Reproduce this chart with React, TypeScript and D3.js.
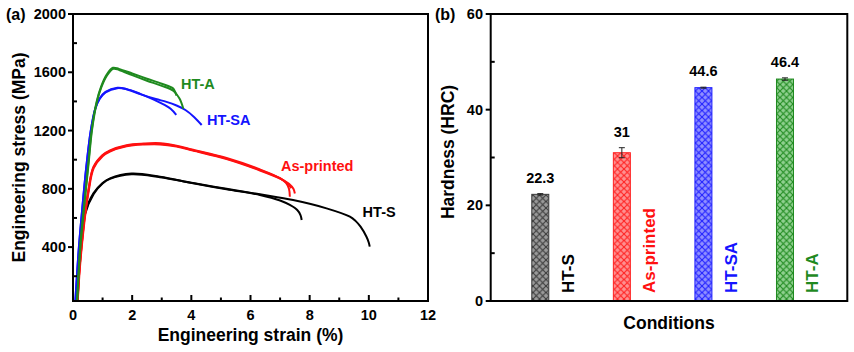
import React from "react";
import * as d3 from "d3";

// ---------- data ----------
const STRAIN_TICKS = [0, 2, 4, 6, 8, 10, 12];
const STRAIN_MINOR = [1, 3, 5, 7, 9, 11];
const STRESS_TICKS = [400, 800, 1200, 1600, 2000];
const STRESS_MINOR = [200, 600, 1000, 1400, 1800];

const HT_S_1: [number, number][] = [[0.15, 30], [0.25, 400], [0.4, 632], [0.69, 769], [1.0, 840], [1.25, 872], [1.98, 905], [2.94, 883], [4.06, 838], [5.19, 797], [6.32, 758], [7.0, 720], [7.33, 689], [7.58, 655], [7.69, 620], [7.73, 586]];
const HT_S_2: [number, number][] = [[0.16, 30], [0.26, 400], [0.41, 628], [0.7, 765], [1.0, 836], [1.25, 868], [1.98, 900], [2.94, 880], [4.06, 840], [5.19, 800], [6.32, 762], [7.44, 723], [8.57, 666], [9.36, 609], [9.55, 580], [9.72, 540], [9.92, 471], [10.0, 430], [10.03, 403]];
const AS_PRINTED_1: [number, number][] = [[0.15, 30], [0.22, 250], [0.3, 430], [0.4, 620], [0.52, 790], [0.69, 950], [1.0, 1032], [1.25, 1064], [1.81, 1100], [2.4, 1111], [2.94, 1113], [3.5, 1096], [4.06, 1068], [5.19, 1011], [6.32, 933], [7.0, 873], [7.2, 840], [7.3, 800], [7.33, 746]];
const AS_PRINTED_2: [number, number][] = [[0.16, 30], [0.23, 250], [0.31, 430], [0.41, 615], [0.53, 783], [0.7, 942], [1.0, 1024], [1.25, 1056], [1.81, 1092], [2.4, 1104], [2.94, 1105], [3.5, 1090], [4.06, 1062], [5.19, 1004], [6.32, 926], [7.0, 870], [7.3, 835], [7.45, 800], [7.5, 768]];
const AS_PRINTED_3: [number, number][] = [[0.15, 30], [0.22, 250], [0.3, 430], [0.4, 618], [0.52, 787], [0.69, 946], [1.0, 1028], [1.25, 1060], [1.81, 1096], [2.4, 1108], [2.94, 1109], [3.5, 1093], [4.06, 1065], [5.19, 1007], [6.32, 929], [7.0, 871], [7.25, 836], [7.38, 805]];
const HT_SA_1: [number, number][] = [[0.08, 30], [0.2, 400], [0.33, 700], [0.45, 950], [0.6, 1200], [0.75, 1350], [0.9, 1420], [1.1, 1465], [1.5, 1494], [1.8, 1486], [2.27, 1452], [2.94, 1392], [3.3, 1350], [3.49, 1307]];
const HT_SA_2: [number, number][] = [[0.08, 30], [0.2, 400], [0.33, 700], [0.45, 950], [0.6, 1198], [0.75, 1346], [0.9, 1416], [1.1, 1462], [1.5, 1491], [1.8, 1484], [2.27, 1450], [2.8, 1416], [3.16, 1397], [3.5, 1372], [3.8, 1341], [4.1, 1292], [4.35, 1238]];
const HT_A_1: [number, number][] = [[0.14, 30], [0.24, 400], [0.33, 600], [0.43, 800], [0.53, 1000], [0.63, 1200], [0.8, 1400], [0.95, 1502], [1.14, 1584], [1.35, 1631], [1.55, 1623], [2.0, 1592], [2.5, 1556], [3.0, 1521], [3.38, 1490], [3.45, 1466], [3.5, 1440]];
const HT_A_2: [number, number][] = [[0.14, 30], [0.25, 400], [0.34, 600], [0.44, 800], [0.54, 1000], [0.64, 1200], [0.81, 1398], [0.96, 1498], [1.15, 1578], [1.36, 1624], [1.56, 1616], [2.0, 1580], [2.5, 1542], [3.0, 1507], [3.4, 1472], [3.6, 1420], [3.73, 1350]];

const CURVE_LABELS: { text: string; strain: number; stress: number; color: string }[] = [
  { text: "HT-A", strain: 3.65, stress: 1485, color: "#1f8a1f" },
  { text: "HT-SA", strain: 4.53, stress: 1238, color: "#1414ff" },
  { text: "As-printed", strain: 7.03, stress: 922, color: "#ff1010" },
  { text: "HT-S", strain: 9.79, stress: 607, color: "#000000" },
];

const CONDITIONS = ["HT-S", "As-printed", "HT-SA", "HT-A"];
const HARDNESS = [22.3, 31, 44.6, 46.4];
const HARDNESS_ERR = [0.15, 1.05, 0.1, 0.25];
const HARDNESS_LABELS = ["22.3", "31", "44.6", "46.4"];
const HARDNESS_TICKS = [0, 20, 40, 60];
const HARDNESS_MINOR = [10, 30, 50];

// ---------- styles ----------
const FONT = "'Liberation Sans', Arial, Helvetica, sans-serif";
const COND_COLORS = ["#000000", "#ff1010", "#1414ff", "#1f8a1f"];
const BAR_BG = ["#9a9a9a", "#ff9090", "#9090ff", "#8fd08f"];
const BAR_LINE = ["#3a3a3a", "#ff2020", "#2020ff", "#1f8a1f"];

const xA = d3.scaleLinear().domain([0, 12]).range([73, 428]);
const yA = d3.scaleLinear().domain([30, 2000]).range([301, 14]);
const xB = d3.scaleLinear().domain([0.392, 4.764]).range([490.7, 847.3]);
const yB = d3.scaleLinear().domain([0, 60]).range([301, 14]);

const line = d3
  .line<[number, number]>()
  .x((d) => xA(d[0]))
  .y((d) => yA(d[1]))
  .curve(d3.curveCatmullRom.alpha(0.5));

const CURVES: { data: [number, number][]; color: string }[] = [
  { data: HT_S_1, color: "#000000" },
  { data: HT_S_2, color: "#000000" },
  { data: AS_PRINTED_1, color: "#ff1010" },
  { data: AS_PRINTED_2, color: "#ff1010" },
  { data: AS_PRINTED_3, color: "#ff1010" },
  { data: HT_SA_1, color: "#1414ff" },
  { data: HT_SA_2, color: "#1414ff" },
  { data: HT_A_1, color: "#1f8a1f" },
  { data: HT_A_2, color: "#1f8a1f" },
];

export default function App() {
  const barW = 17;
  const [ax0, ax1] = xA.range();
  const [ay0, ay1] = yA.range();
  const [bx0, bx1] = xB.range();
  const [by0, by1] = yB.range();
  return (
    <svg
      width={854}
      height={352}
      viewBox="0 0 854 352"
      style={{ position: "absolute", left: 0, top: 0, background: "#fff" }}
      fontFamily={FONT}
      fontWeight="bold"
    >
      <defs>
        {CONDITIONS.map((c, i) => (
          <pattern key={c} id={`hatch${i}`} patternUnits="userSpaceOnUse" width={6.5} height={6.5}>
            <rect width={6.5} height={6.5} fill={BAR_BG[i]} />
            <path d="M0,0 L6.5,6.5 M6.5,0 L0,6.5" stroke={BAR_LINE[i]} strokeWidth={1.1} />
            <path d="M3.25,0.8 L3.25,0.8" stroke="#fff" />
          </pattern>
        ))}
        <clipPath id="clipA">
          <rect x={ax0} y={ay1} width={ax1 - ax0} height={ay0 - ay1} />
        </clipPath>
      </defs>

      {/* ---------- panel (a) ---------- */}
      <g clipPath="url(#clipA)">
        {CURVES.map((c, i) => (
          <path key={i} d={line(c.data) || ""} fill="none" stroke={c.color} strokeWidth={2} strokeLinejoin="round" />
        ))}
      </g>
      {CURVE_LABELS.map((l) => (
        <text key={l.text} x={xA(l.strain)} y={yA(l.stress)} fill={l.color} fontSize={14.5}>
          {l.text}
        </text>
      ))}
      <rect x={ax0} y={ay1} width={ax1 - ax0} height={ay0 - ay1} fill="none" stroke="#000" strokeWidth={2} />
      {STRAIN_TICKS.map((t) => (
        <g key={t}>
          <line x1={xA(t)} x2={xA(t)} y1={ay0} y2={ay0 - 6} stroke="#000" strokeWidth={2} />
          <text x={xA(t)} y={319.5} textAnchor="middle" fontSize={14.5}>
            {t}
          </text>
        </g>
      ))}
      {STRAIN_MINOR.map((t) => (
        <line key={t} x1={xA(t)} x2={xA(t)} y1={ay0} y2={ay0 - 3.5} stroke="#000" strokeWidth={2} />
      ))}
      {STRESS_TICKS.map((t) => (
        <g key={t}>
          <line x1={ax0} x2={ax0 - 5} y1={yA(t)} y2={yA(t)} stroke="#000" strokeWidth={2} />
          <text x={66} y={yA(t) + 5} textAnchor="end" fontSize={14.5}>
            {t}
          </text>
        </g>
      ))}
      {STRESS_MINOR.map((t) => (
        <line key={t} x1={ax0} x2={ax0 + 4} y1={yA(t)} y2={yA(t)} stroke="#000" strokeWidth={2} />
      ))}
      <text x={6} y={20} fontSize={16}>
        (a)
      </text>
      <text x={(ax0 + ax1) / 2} y={341} textAnchor="middle" fontSize={17.5}>
        Engineering strain (%)
      </text>
      <text transform={`translate(25,${(ay0 + ay1) / 2}) rotate(-90)`} textAnchor="middle" fontSize={17.5}>
        Engineering stress (MPa)
      </text>

      {/* ---------- panel (b) ---------- */}
      {CONDITIONS.map((c, i) => {
        const cx = xB(i + 1);
        const top = yB(HARDNESS[i]);
        const eTop = yB(HARDNESS[i] + HARDNESS_ERR[i]);
        const eBot = yB(HARDNESS[i] - HARDNESS_ERR[i]);
        return (
          <g key={c}>
            <rect
              x={cx - barW / 2}
              y={top}
              width={barW}
              height={by0 - top}
              fill={`url(#hatch${i})`}
              stroke={BAR_LINE[i]}
              strokeWidth={1}
            />
            <line x1={cx} x2={cx} y1={eTop} y2={eBot} stroke="#222" strokeWidth={1} />
            <line x1={cx - 3} x2={cx + 3} y1={eTop} y2={eTop} stroke="#222" strokeWidth={1} />
            <line x1={cx - 3} x2={cx + 3} y1={eBot} y2={eBot} stroke="#222" strokeWidth={1} />
            <text x={cx} y={eTop - 11} textAnchor="middle" fontSize={14.5}>
              {HARDNESS_LABELS[i]}
            </text>
            <text
              transform={`translate(${cx + 33.5},293) rotate(-90)`}
              fill={COND_COLORS[i]}
              fontSize={17}
            >
              {c}
            </text>
          </g>
        );
      })}
      <rect x={bx0} y={by1} width={bx1 - bx0} height={by0 - by1} fill="none" stroke="#000" strokeWidth={2} />
      {HARDNESS_TICKS.map((t) => (
        <g key={t}>
          <line x1={bx0} x2={bx0 - 5} y1={yB(t)} y2={yB(t)} stroke="#000" strokeWidth={2} />
          <text x={483} y={yB(t) + 5} textAnchor="end" fontSize={14.5}>
            {t}
          </text>
        </g>
      ))}
      {HARDNESS_MINOR.map((t) => (
        <line key={t} x1={bx0} x2={bx0 + 4} y1={yB(t)} y2={yB(t)} stroke="#000" strokeWidth={2} />
      ))}
      <text x={435} y={20} fontSize={16}>
        (b)
      </text>
      <text x={(bx0 + bx1) / 2} y={329} textAnchor="middle" fontSize={17.5}>
        Conditions
      </text>
      <text transform={`translate(453.5,152) rotate(-90)`} textAnchor="middle" fontSize={17.5}>
        Hardness (HRC)
      </text>
    </svg>
  );
}
